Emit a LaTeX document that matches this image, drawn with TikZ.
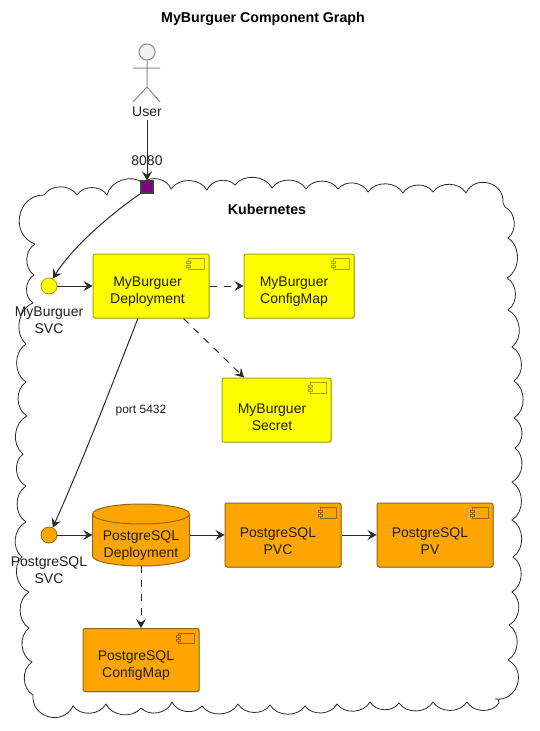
\documentclass[tikz,border=0pt]{standalone}
\usepackage{fontspec}
\setmainfont{Liberation Sans}
\usetikzlibrary{arrows.meta,shadows}
\definecolor{edgecol}{HTML}{2A2A2A}
\definecolor{yelfill}{HTML}{FFFF00}
\definecolor{yelb}{HTML}{A8A800}
\definecolor{orab}{HTML}{8F6A14}
\definecolor{orafill}{HTML}{FFA500}
\definecolor{actorb}{HTML}{8A8A8A}
\definecolor{portfill}{HTML}{800080}
\definecolor{txt}{HTML}{1E1E1E}
\tikzset{
  x=1pt,y=-1pt,
  ca/.style={bend left=58},
  cb/.style={bend left=80,looseness=1.4},
  cloudline/.style={draw=edgecol,line width=0.8pt,line join=round},
  lab/.style={font=\fontsize{14}{17}\selectfont,text=txt,align=center,inner sep=0pt},
  ttl/.style={font=\fontsize{14.2}{17}\selectfont\bfseries,text=black,inner sep=0pt},
  small/.style={font=\fontsize{12}{15}\selectfont,text=txt,inner sep=0pt},
  comp/.style={draw=#1,line width=1pt,rounded corners=2pt,inner sep=0pt,
    drop shadow={shadow xshift=0.8pt,shadow yshift=-0.8pt,fill=black!20,opacity=1}},
  yb/.style={comp=yelb,fill=yelfill},
  ob/.style={comp=orab,fill=orafill},
  flow/.style={draw=edgecol,line width=1pt,-{Stealth[length=9pt,width=10pt,inset=3.5pt]}},
  dep/.style={flow,dash pattern=on 7pt off 7pt},
  svc/.style={circle,minimum size=16pt,inner sep=0pt,line width=0.8pt},
  actorline/.style={draw=actorb,line width=1pt}
}
\newcommand{\compbox}[8]{%
  \node[#2,minimum width=#5pt,minimum height=#6pt] (#1) at (#3,#4) {};
  \draw[draw=#7,line width=1pt] ([xshift=-21pt,yshift=-5pt]#1.north east) rectangle ([xshift=-5pt,yshift=-15.5pt]#1.north east);
  \draw[draw=#7,line width=1pt,fill=#8] ([xshift=-23pt,yshift=-7.5pt]#1.north east) rectangle ([xshift=-19pt,yshift=-9.5pt]#1.north east);
  \draw[draw=#7,line width=1pt,fill=#8] ([xshift=-23pt,yshift=-11.5pt]#1.north east) rectangle ([xshift=-19pt,yshift=-13.5pt]#1.north east);
}
\begin{document}
\begin{tikzpicture}
\useasboundingbox (0,0) rectangle (539,731);
% cloud
\draw[cloudline]
 (44,195) to[ca] (77,195) to[ca] (107,195) to[ca] (143,183) to[ca] (171,189)
 to[ca] (207,190) to[ca] (235,185) to[ca] (272,188) to[ca] (306,189) to[ca] (338,189)
 to[ca] (368,192) to[ca] (403,193) to[ca] (433,192) to[ca] (466,193) to[cb] (503,203)
 -- (505,207) to[ca] (508,238) to[ca] (507,278) to[ca] (508,310) to[ca] (512,347)
 to[ca] (514,381) to[ca] (514,418) to[ca] (515,448) to[ca] (512,482) to[ca] (512,520)
 to[ca] (513,557) to[ca] (512,592) to[ca] (509,625) to[ca] (508,660) to[cb] (495,699)
 -- (498,699) -- (499,703) to[ca] (467,702) to[ca] (433,702) to[ca] (399,703)
 to[ca] (370,702) to[ca] (337,704) to[ca] (305,706) to[ca] (270,705) to[ca] (238,704)
 to[ca] (202,706) to[ca] (172,702) to[ca] (141,708) to[ca] (106,704) to[ca] (73,706)
 to[cb] (33,695) to[ca] (32,662) to[ca] (29,628) to[ca] (29,592) to[ca] (22,557)
 to[ca] (26,522) to[ca] (26,486) to[ca] (23,454) to[ca] (27,416) to[ca] (26,382)
 to[ca] (26,344) to[ca] (33,303) to[ca] (34,275) to[ca] (35,244) to[cb] (44,195);
% text
\node[ttl] (title) at (263,19) {MyBurguer Component Graph};
\node[ttl] (kube) at (267,209) {Kubernetes};
% actor
\node[circle,draw=actorb,fill=black!6,line width=1pt,minimum size=16pt,inner sep=0pt] (head) at (147,52) {};
\coordinate (hip) at (147,87);
\coordinate (armL) at (133,68);
\coordinate (armR) at (160,68);
\coordinate (legL) at (133,102);
\coordinate (legR) at (160,102);
\draw[actorline] (head.south) -- (hip) (armL) -- (armR) (legL) -- (hip) -- (legR);
\node[lab] (user) at (147,112) {User};
% boxes
\compbox{mbd}{yb}{151}{286}{116}{64}{yelb}{yelfill}
\compbox{mbc}{yb}{299}{286}{110}{64}{yelb}{yelfill}
\compbox{mbsec}{yb}{276.5}{410}{109}{64}{yelb}{yelfill}
\compbox{pvc}{ob}{283}{535}{116}{64}{orab}{orafill}
\compbox{pv}{ob}{435}{535}{116}{64}{orab}{orafill}
\compbox{pgc}{ob}{141}{660}{116}{63}{orab}{orafill}
\node[lab] (mbdt) at (147.5,292) {MyBurguer\\Deployment};
\node[lab] (mbct) at (294,292) {MyBurguer\\ConfigMap};
\node[lab] (mbst) at (272,417) {MyBurguer\\Secret};
\node[lab] (pvct) at (278,541) {PostgreSQL\\PVC};
\node[lab] (pvt) at (430,541) {PostgreSQL\\PV};
\node[lab] (pgct) at (136,666) {PostgreSQL\\ConfigMap};
% cylinder
\node[minimum width=97pt,minimum height=62pt,inner sep=0pt] (pgd) at (141,535) {};
\draw[draw=orab,line width=1pt,fill=orafill] (92.5,514) arc[x radius=48.5,y radius=10,start angle=180,end angle=360] -- (189.5,556) arc[x radius=48.5,y radius=10,start angle=0,end angle=180] -- cycle;
\draw[draw=orab,line width=1pt] (92.5,514) arc[x radius=48.5,y radius=10,start angle=180,end angle=0];
\node[lab] (pgdt) at (141,546) {PostgreSQL\\Deployment};
% circles
\node[svc,draw=yelb,fill=yelfill] (mbs) at (49,286) {};
\node[svc,draw=orab,fill=orafill] (pgs) at (49,535) {};
\node[lab] (mbsl) at (49,320.5) {MyBurguer\\SVC};
\node[lab] (pgsl) at (49,570) {PostgreSQL\\SVC};
% port
\node[rectangle,draw=black!75,fill=portfill,line width=1.2pt,minimum size=12pt,inner sep=0pt] (port) at (147,187) {};
\node[lab] (portl) at (147,161) {8080};
% edges
\draw[flow] (user.south) ++(0,3) -- (port.north);
\draw[flow] (port.south west) .. controls (108,216) and (72,248) .. (mbs.63);
\draw[flow] (mbs.east) -- (mbd.west);
\draw[dep] (mbd.east) -- (mbc.west);
\draw[dep] (mbd.315) -- (mbsec.135);
\draw[flow] (mbd.248) .. controls (112,385) and (85,455) .. (pgs.63);
\draw[flow] (pgs.east) -- (pgd.west);
\draw[flow] (pgd.east) -- (pvc.west);
\draw[flow] (pvc.east) -- (pv.west);
\draw[dep] (pgd.south) -- (pgc.north);
\node[small] (portlab) at (141,411) {port 5432};
\end{tikzpicture}
\end{document}
